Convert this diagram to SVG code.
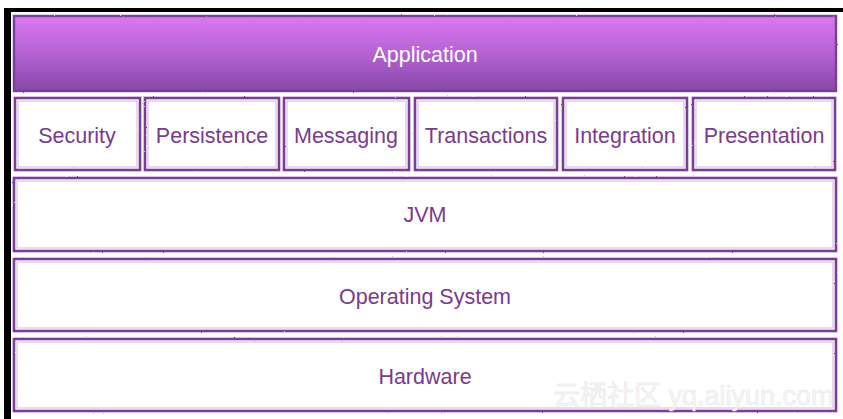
<svg xmlns="http://www.w3.org/2000/svg" width="843" height="419" viewBox="0 0 843 419">
<defs>
<linearGradient id="appGrad" x1="0" y1="0" x2="0" y2="1">
<stop offset="0" stop-color="#dc78f0"/>
<stop offset="0.5" stop-color="#b462d4"/>
<stop offset="1" stop-color="#8747a6"/>
</linearGradient>
<filter id="rough" x="-2%" y="-5%" width="104%" height="110%">
<feTurbulence type="fractalNoise" baseFrequency="0.9" numOctaves="2" seed="3" result="n"/>
<feDisplacementMap in="SourceGraphic" in2="n" scale="1.6" xChannelSelector="R" yChannelSelector="G"/>
</filter>
</defs>
<style>
.box{fill:#ffffff;stroke:#7c3e98;stroke-width:2.6}
.inner{fill:none;stroke:#c9a6d6;stroke-width:0.8}
.lbl{font-family:"Liberation Sans",Arial,sans-serif;font-size:21.5px;fill:#7a3a90;text-anchor:middle}
.app{fill:url(#appGrad);stroke:#7c3e98;stroke-width:2.4}
.applbl{font-family:"Liberation Sans",Arial,sans-serif;font-size:21.5px;fill:#ffffff;text-anchor:middle}
.wm{font-family:"Liberation Sans","Noto Sans CJK SC",sans-serif;font-size:27px;fill:#f6f6f6;stroke:#e6e6e6;stroke-width:0.5}
</style>
<rect x="0" y="0" width="843" height="419" fill="#ffffff"/>
<rect x="4" y="8" width="839" height="4" fill="#000000"/>
<rect x="4" y="8" width="7" height="411" fill="#000000"/>

<g id="application">
<rect class="app" x="14" y="16" width="822" height="75" filter="url(#rough)"/>
<text class="applbl" x="425" y="62">Application</text>
</g>

<g id="security">
<rect class="box" x="15" y="98" width="125" height="72" filter="url(#rough)"/>
<rect class="inner" x="18" y="101" width="119" height="66"/>
<text class="lbl" x="77" y="143">Security</text>
</g>
<g id="persistence">
<rect class="box" x="145" y="98" width="134" height="72" filter="url(#rough)"/>
<rect class="inner" x="148" y="101" width="128" height="66"/>
<text class="lbl" x="212" y="143">Persistence</text>
</g>
<g id="messaging">
<rect class="box" x="284" y="98" width="125" height="72" filter="url(#rough)"/>
<rect class="inner" x="287" y="101" width="119" height="66"/>
<text class="lbl" x="346" y="143">Messaging</text>
</g>
<g id="transactions">
<rect class="box" x="415" y="98" width="142" height="72" filter="url(#rough)"/>
<rect class="inner" x="418" y="101" width="136" height="66"/>
<text class="lbl" x="486" y="143">Transactions</text>
</g>
<g id="integration">
<rect class="box" x="563" y="98" width="124" height="72" filter="url(#rough)"/>
<rect class="inner" x="566" y="101" width="118" height="66"/>
<text class="lbl" x="625" y="143">Integration</text>
</g>
<g id="presentation">
<rect class="box" x="693" y="98" width="142" height="72" filter="url(#rough)"/>
<rect class="inner" x="696" y="101" width="136" height="66"/>
<text class="lbl" x="764" y="143">Presentation</text>
</g>

<g id="jvm">
<rect class="box" x="14" y="178" width="822" height="73" filter="url(#rough)"/>
<rect class="inner" x="17" y="181" width="816" height="67"/>
<text class="lbl" x="425" y="222">JVM</text>
</g>
<g id="os">
<rect class="box" x="14" y="259" width="822" height="72" filter="url(#rough)"/>
<rect class="inner" x="17" y="262" width="816" height="66"/>
<text class="lbl" x="425" y="304">Operating System</text>
</g>
<g id="hardware">
<rect class="box" x="14" y="339" width="822" height="72" filter="url(#rough)"/>
<rect class="inner" x="17" y="342" width="816" height="66"/>
<text class="lbl" x="425" y="384">Hardware</text>
</g>

<g id="connectors"></g>

<text class="wm" x="553" y="405">云栖社区 yq.aliyun.com</text>
</svg>
